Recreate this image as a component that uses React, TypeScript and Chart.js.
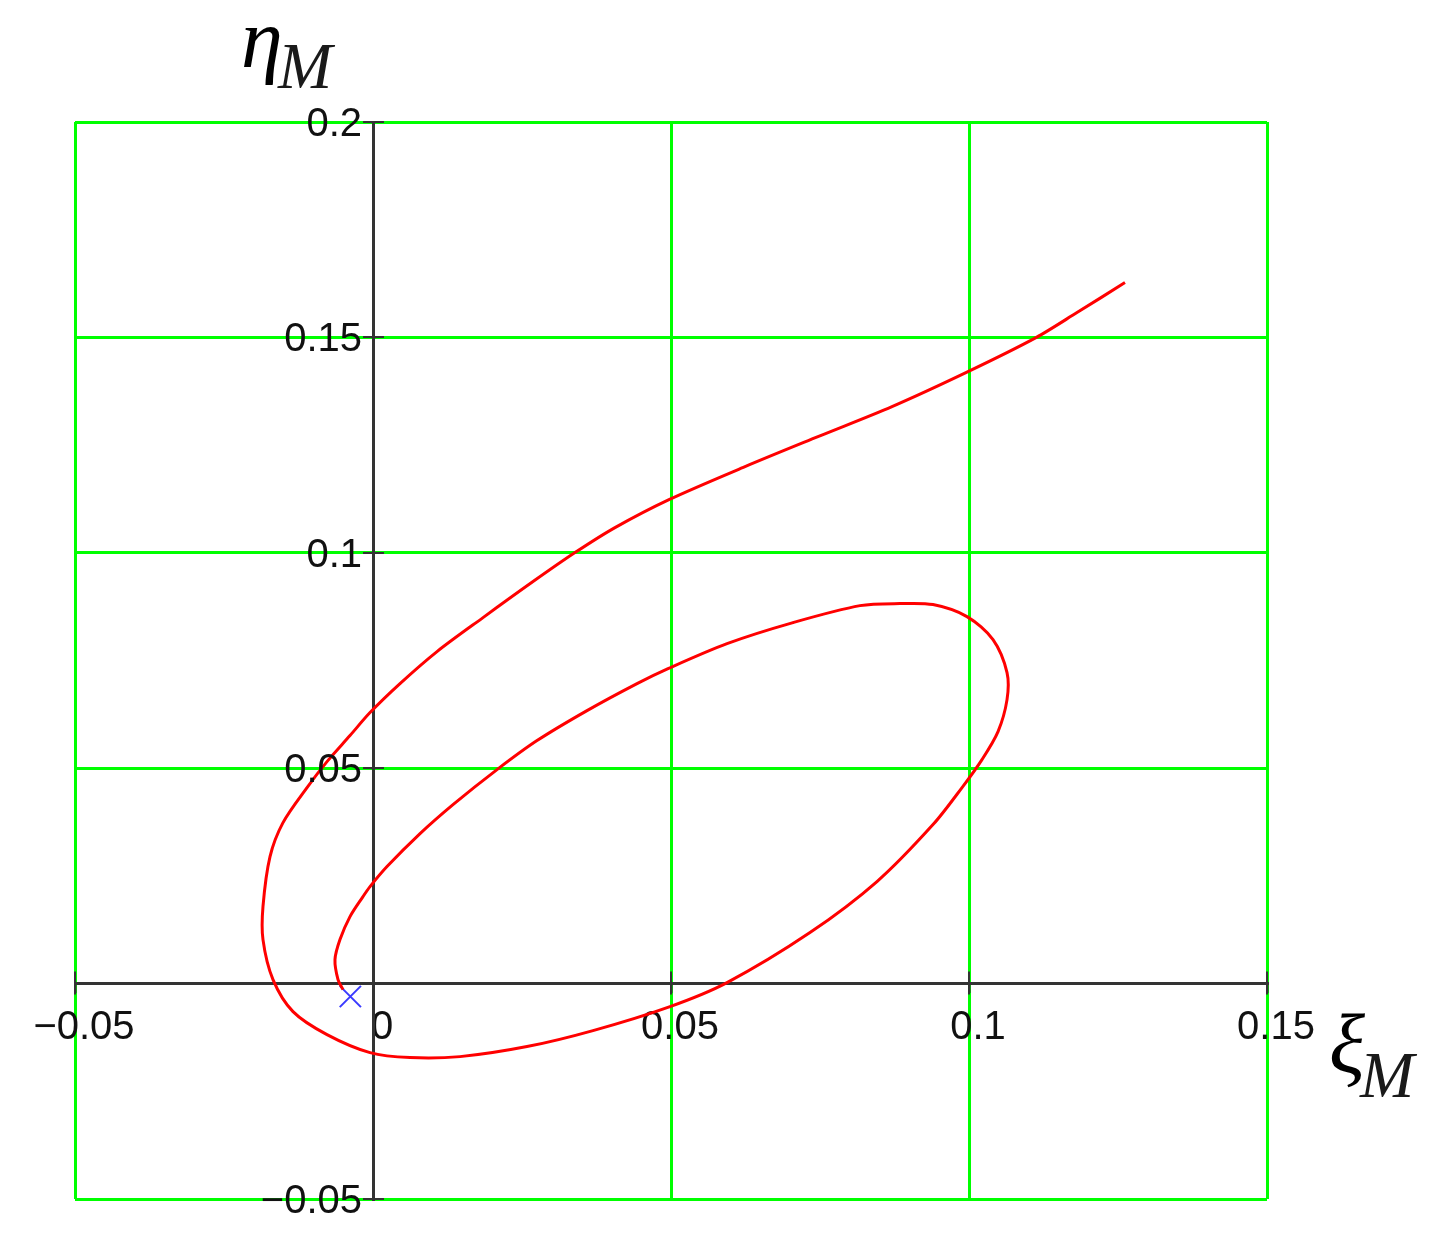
import React, { useEffect, useRef } from 'react';
import { Chart, registerables } from 'chart.js';

Chart.register(...registerables);

// Tick values and labels
const xTickValues = [-0.05, 0, 0.05, 0.1, 0.15];
const xTickLabels = ['−0.05', '0', '0.05', '0.1', '0.15'];
const yTickValues = [-0.05, 0, 0.05, 0.1, 0.15, 0.2];
const yTickLabels = ['−0.05', '', '0.05', '0.1', '0.15', '0.2'];

// Trajectory (ξ_M, η_M), in drawing order
const curveXi = [
  -0.00503, -0.00587, -0.00638, -0.00554, -0.00386, -0.00168, -0.0005, 0.00235, 0.00789, 0.01342,
  0.02081, 0.02752, 0.03591, 0.0443, 0.0495, 0.0594, 0.07047, 0.08171, 0.08842, 0.09396,
  0.09966, 0.10403, 0.10638, 0.10638, 0.10487, 0.10218, 0.09883, 0.09396, 0.08456, 0.07332,
  0.0594, 0.04983, 0.03691, 0.02584, 0.0146, 0.00621, -0.0005, -0.00772, -0.01342, -0.01678,
  -0.01846, -0.01846, -0.01728, -0.0151, -0.01107, -0.00772, -0.00386, -0.0005, 0.00453, 0.01074,
  0.01846, 0.02685, 0.03389, 0.0406, 0.04966, 0.06242, 0.07466, 0.08708, 0.09983, 0.11124,
  0.11812, 0.12617,
];
const curveEta = [
  -0.00139, 0.00093, 0.00557, 0.01021, 0.01555, 0.0202, 0.02252, 0.02716, 0.03482, 0.04155,
  0.04968, 0.05641, 0.06337, 0.06964, 0.07312, 0.07892, 0.0838, 0.08774, 0.08821, 0.08798,
  0.08519, 0.07985, 0.07219, 0.06592, 0.0585, 0.052, 0.0455, 0.03691, 0.02368, 0.01184,
  0.00023, -0.00534, -0.01091, -0.01462, -0.01695, -0.01718, -0.01602, -0.01184, -0.0065, 0.00093,
  0.01021, 0.01787, 0.02948, 0.03737, 0.0455, 0.05153, 0.05757, 0.06291, 0.06964, 0.07707,
  0.08496, 0.09332, 0.10005, 0.10585, 0.11235, 0.12001, 0.12697, 0.13394, 0.14206, 0.14995,
  0.15576, 0.16272,
];

// Start marker
const startXi = [-0.0038];
const startEta = [-0.003];

const xTitleMain = 'ξ';
const yTitleMain = 'η';
const titleSub = 'M';

const AXIS_COLOR = '#333333';
const GRID_COLOR = '#00ff00';
const CURVE_COLOR = '#ff0000';
const MARKER_COLOR = '#3a3aff';
const LABEL_FONT = "40px 'Liberation Sans', Arial, sans-serif";

const decorPlugin = {
  id: 'mathcadDecor',
  afterDraw(chart: any) {
    const { ctx, chartArea, scales } = chart;
    const xs = scales.x;
    const ys = scales.y;
    const x0 = xs.getPixelForValue(0);
    const y0 = ys.getPixelForValue(0);
    ctx.save();
    // cross tick marks on both axes
    ctx.strokeStyle = AXIS_COLOR;
    ctx.lineWidth = 2;
    ctx.beginPath();
    xTickValues.forEach((v) => {
      if (v === 0) return;
      const px = Math.round(xs.getPixelForValue(v));
      ctx.moveTo(px, y0 - 12);
      ctx.lineTo(px, y0 + 11);
    });
    yTickValues.forEach((v) => {
      if (v === 0) return;
      const py = Math.round(ys.getPixelForValue(v));
      ctx.moveTo(x0 - 10, py);
      ctx.lineTo(x0 + 11, py);
    });
    ctx.stroke();

    // y tick labels, right-aligned left of the vertical axis
    ctx.fillStyle = '#111111';
    ctx.font = LABEL_FONT;
    ctx.textAlign = 'right';
    ctx.textBaseline = 'middle';
    yTickValues.forEach((v, i) => {
      const label = yTickLabels[i];
      if (!label) return;
      ctx.fillText(label, x0 - 11, ys.getPixelForValue(v) + 3);
    });

    // axis titles
    ctx.fillStyle = '#000000';
    ctx.textAlign = 'left';
    ctx.textBaseline = 'alphabetic';
    ctx.font = "italic 84px 'Liberation Serif', 'Times New Roman', serif";
    ctx.fillText(yTitleMain, x0 - 132, chartArea.top - 55);
    ctx.fillText(xTitleMain, chartArea.right + 62, y0 + 88);
    ctx.fillStyle = '#1a1a1a';
    ctx.font = "italic 65px 'Liberation Serif', 'Times New Roman', serif";
    ctx.fillText(titleSub, x0 - 95, chartArea.top - 34);
    ctx.fillText(titleSub, chartArea.right + 93, y0 + 113);
    ctx.restore();
  },
};

export default function App() {
  const canvasRef = useRef<HTMLCanvasElement | null>(null);

  useEffect(() => {
    const canvas = canvasRef.current;
    if (!canvas) return;
    const curve = curveXi.map((x, i) => ({ x, y: curveEta[i] }));
    const start = startXi.map((x, i) => ({ x, y: startEta[i] }));

    const gridColor = (ctx: any) => (ctx.tick && ctx.tick.value === 0 ? AXIS_COLOR : GRID_COLOR);

    const chart = new Chart(canvas, {
      type: 'scatter',
      data: {
        datasets: [
          {
            label: 'trajectory',
            data: curve,
            showLine: true,
            borderColor: CURVE_COLOR,
            backgroundColor: CURVE_COLOR,
            borderWidth: 3,
            pointRadius: 0,
            tension: 0.3,
            fill: false,
          },
          {
            label: 'start',
            data: start,
            showLine: false,
            pointStyle: 'crossRot',
            pointRadius: 15,
            borderColor: MARKER_COLOR,
            backgroundColor: MARKER_COLOR,
            borderWidth: 2,
          },
        ],
      },
      options: {
        responsive: false,
        animation: false,
        events: [],
        layout: { padding: { left: 67, top: 114, right: 168, bottom: 26 } },
        plugins: {
          legend: { display: false },
          tooltip: { enabled: false },
          title: { display: false },
        },
        scales: {
          x: {
            type: 'linear',
            min: -0.05,
            max: 0.15,
            position: { y: 0 } as any,
            afterBuildTicks: (scale: any) => {
              scale.ticks = xTickValues.map((v) => ({ value: v }));
            },
            ticks: {
              autoSkip: false,
              maxRotation: 0,
              padding: 12,
              labelOffset: 9,
              color: '#111111',
              font: { family: "'Liberation Sans', Arial, sans-serif", size: 40 },
              callback: (value: any) => {
                const i = xTickValues.findIndex((v) => Math.abs(v - Number(value)) < 1e-9);
                return i >= 0 ? xTickLabels[i] : '';
              },
            },
            grid: {
              color: gridColor,
              lineWidth: 3,
              drawTicks: true,
              tickLength: 8,
              tickColor: AXIS_COLOR,
              tickWidth: 2,
            },
            border: { display: true, color: AXIS_COLOR, width: 3 },
          },
          y: {
            type: 'linear',
            min: -0.05,
            max: 0.2,
            position: { x: 0 } as any,
            afterBuildTicks: (scale: any) => {
              scale.ticks = yTickValues.map((v) => ({ value: v }));
            },
            ticks: { display: false },
            grid: { color: gridColor, lineWidth: 3, drawTicks: false },
            border: { display: true, color: AXIS_COLOR, width: 3 },
          },
        },
      },
      plugins: [decorPlugin],
    });
    return () => chart.destroy();
  }, []);

  return (
    <div style={{ width: 1427, height: 1217, background: '#ffffff' }}>
      <canvas ref={canvasRef} width={1427} height={1217} style={{ display: 'block' }} />
    </div>
  );
}
